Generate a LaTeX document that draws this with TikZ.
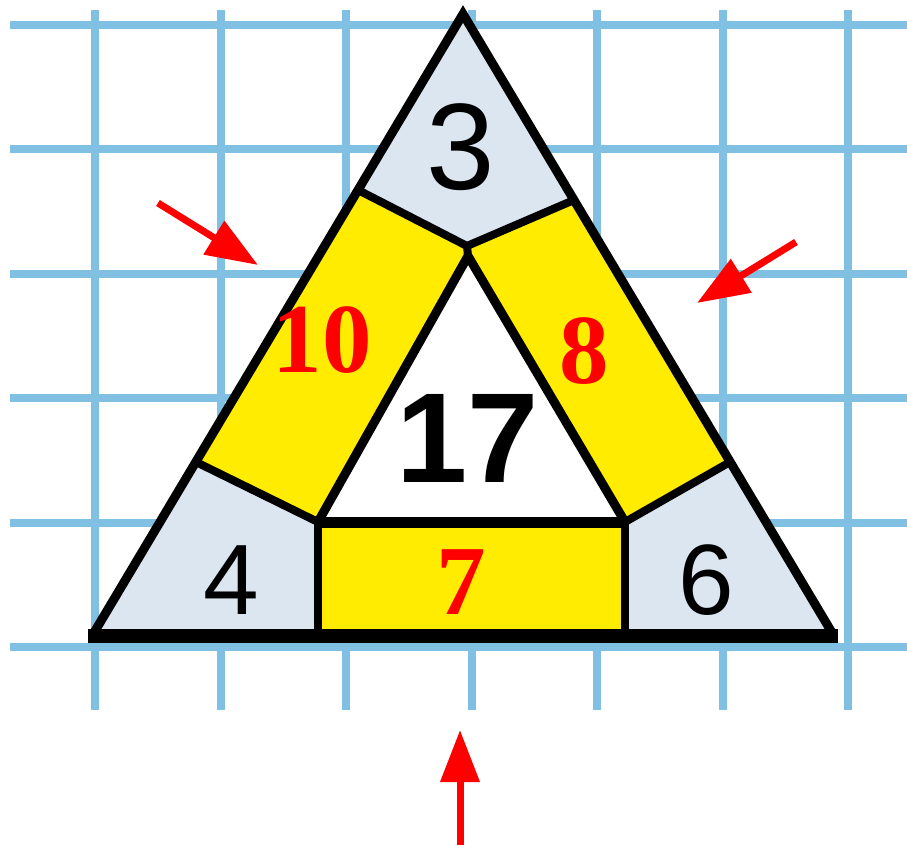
\documentclass[tikz,border=0pt]{standalone}
\usepackage{fontspec}
\setmainfont{Liberation Sans}
\newfontfamily\serifnum{Liberation Serif}
\usetikzlibrary{arrows.meta}
\definecolor{gridblue}{RGB}{128,192,226}
\definecolor{paleblue}{RGB}{220,230,240}
\definecolor{bandyellow}{RGB}{255,236,0}
\definecolor{markred}{RGB}{255,0,0}
\tikzset{
  gridline/.style={draw=gridblue, line width=8pt},
  outline/.style={draw=black, line width=9pt, line join=miter},
  divider/.style={draw=black, line width=8pt, line join=round},
  blacknum/.style={inner sep=0pt, text=black, font=\fontsize{123}{123}\selectfont},
  smallnum/.style={inner sep=0pt, text=black, font=\fontsize{100}{100}\selectfont},
  boldnum/.style={inner sep=0pt, text=black, font=\fontsize{128}{128}\selectfont\bfseries},
  rednum/.style={inner sep=0pt, text=markred, font=\serifnum\fontsize{99}{99}\selectfont\bfseries},
  redarrow/.style={draw=markred, line width=7pt, -{Triangle[length=52pt,width=38pt]}}
}
\begin{document}
\begin{tikzpicture}[x=1pt,y=-1pt]
\useasboundingbox (0,0) rectangle (907,845);
% grid
\foreach \i in {0,...,6} {
  \draw[gridline] ({95+125.5*\i},10) -- ({95+125.5*\i},710);
}
\foreach \j in {0,...,5} {
  \draw[gridline] (10,{25+124.4*\j}) -- (907,{25+124.4*\j});
}
% geometry
\coordinate (T) at (463,14);
\coordinate (L) at (92,636);
\coordinate (R) at (834,636);
\coordinate (t) at (468,256);
\coordinate (l) at (318,522);
\coordinate (r) at (625,522);
\coordinate (KL) at (358,190);
\coordinate (KR) at (574,200);
\coordinate (KB) at (467,246);
\coordinate (BL) at (196,462);
\coordinate (BR) at (730,462);
\coordinate (lb) at (318,636);
\coordinate (rb) at (625,636);
% fills
\fill[paleblue] (T) -- (KR) -- (KB) -- (KL) -- cycle;
\fill[bandyellow] (KL) -- (KB) -- (t) -- (l) -- (BL) -- cycle;
\fill[bandyellow] (KR) -- (BR) -- (r) -- (t) -- (KB) -- cycle;
\fill[white] (t) -- (l) -- (r) -- cycle;
\fill[paleblue] (BL) -- (l) -- (lb) -- (L) -- cycle;
\fill[paleblue] (BR) -- (r) -- (rb) -- (R) -- cycle;
\fill[bandyellow] (l) -- (r) -- (rb) -- (lb) -- cycle;
% lines
\draw[divider] (KL) -- (KB) -- (KR);
\draw[divider] (KB) -- (t);
\draw[divider] (BL) -- (l);
\draw[divider] (BR) -- (r);
\draw[outline] (l) -- (t) -- (r);
\draw[draw=black, line width=11pt] (l) -- (r);
\draw[divider] (l) -- (lb);
\draw[divider] (r) -- (rb);
\draw[outline] (L) -- (T) -- (R);
\draw[draw=black, line width=14pt] ([xshift=-4pt]L) -- ([xshift=4pt]R);
% numbers
\node[blacknum] (n3) at (461,147) {3};
\node[boldnum] (n17) at (468,438) {17};
\node[smallnum] (n4) at (231,580) {4};
\node[smallnum] (n6) at (706,580) {6};
\node[rednum] (n10) at (322,340) {10};
\node[rednum] (n8) at (584,351) {8};
\node[rednum] (n7) at (461,582) {7};
% arrows
\coordinate (a1s) at (158,203);
\coordinate (a1e) at (258,265);
\coordinate (a2s) at (796,242);
\coordinate (a2e) at (697,303);
\coordinate (a3s) at (460,845);
\coordinate (a3e) at (460,730);
\draw[redarrow] (a1s) -- (a1e);
\draw[redarrow] (a2s) -- (a2e);
\draw[redarrow] (a3s) -- (a3e);
\end{tikzpicture}
\end{document}
